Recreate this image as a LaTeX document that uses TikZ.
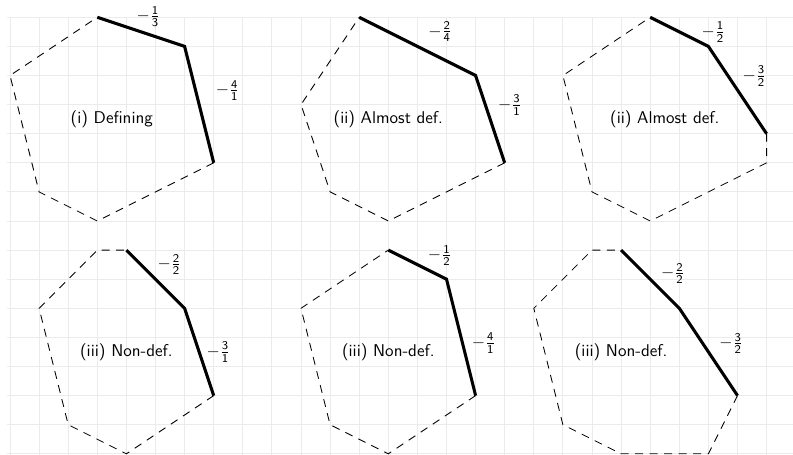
\documentclass[tikz,border=0pt]{standalone}
\usepackage{amsmath}
\begin{document}
\begin{tikzpicture}[x=0.6cm,y=0.6cm,
  gridline/.style={draw=black!8, line width=0.5pt},
  edgebold/.style={line width=1.8pt, line join=miter},
  edgedash/.style={line width=0.5pt, dash pattern=on 4.7pt off 3.8pt},
  slopelabel/.style={font=\sffamily, inner sep=0pt},
  captionlabel/.style={font=\sffamily, inner sep=0pt}]
\useasboundingbox (-0.3436,-15.007) rectangle (26.907,0.5945);
\draw[gridline, step=1] (-0.12,0) grid (27.5,-15.5);

% Panel 1
\draw[edgedash] (7,-5) -- (3,-7) -- (1,-6) -- (0,-2) -- (3,0);
\draw[edgebold] (3,0) -- (6,-1) -- (7,-5);
% Panel 2
\draw[edgedash] (17,-5) -- (13,-7) -- (11,-6) -- (10,-3) -- (12,0);
\draw[edgebold] (12,0) -- (16,-2) -- (17,-5);
% Panel 3
\draw[edgedash] (26,-4) -- (26,-5) -- (22,-7) -- (20,-6) -- (19,-2) -- (22,0);
\draw[edgebold] (22,0) -- (24,-1) -- (26,-4);
% Panel 4
\draw[edgedash] (7,-13) -- (4,-15) -- (2,-14) -- (1,-10) -- (3,-8) -- (4,-8);
\draw[edgebold] (4,-8) -- (6,-10) -- (7,-13);
% Panel 5
\draw[edgedash] (16,-13) -- (13,-15) -- (11,-14) -- (10,-10) -- (13,-8);
\draw[edgebold] (13,-8) -- (15,-9) -- (16,-13);
% Panel 6
\draw[edgedash] (25,-13) -- (24,-15) -- (21,-15) -- (19,-14) -- (18,-10) -- (20,-8) -- (21,-8);
\draw[edgebold] (21,-8) -- (23,-10) -- (25,-13);

% slope labels
\node[slopelabel] (l1a) at (4.76,0.03) {$-\frac{\mathsf{1}}{\mathsf{3}}$};
\node[slopelabel] (l1b) at (7.48,-2.52) {$-\frac{\mathsf{4}}{\mathsf{1}}$};
\node[slopelabel] (l2a) at (14.78,-0.495) {$-\frac{\mathsf{2}}{\mathsf{4}}$};
\node[slopelabel] (l2b) at (17.18,-3.01) {$-\frac{\mathsf{3}}{\mathsf{1}}$};
\node[slopelabel] (l3a) at (24.17,-0.516) {$-\frac{\mathsf{1}}{\mathsf{2}}$};
\node[slopelabel] (l3b) at (25.58,-2.017) {$-\frac{\mathsf{3}}{\mathsf{2}}$};
\node[slopelabel] (l4a) at (5.48,-8.50) {$-\frac{\mathsf{2}}{\mathsf{2}}$};
\node[slopelabel] (l4b) at (7.16,-11.51) {$-\frac{\mathsf{3}}{\mathsf{1}}$};
\node[slopelabel] (l5a) at (14.77,-8.19) {$-\frac{\mathsf{1}}{\mathsf{2}}$};
\node[slopelabel] (l5b) at (16.28,-11.19) {$-\frac{\mathsf{4}}{\mathsf{1}}$};
\node[slopelabel] (l6a) at (22.78,-8.80) {$-\frac{\mathsf{2}}{\mathsf{2}}$};
\node[slopelabel] (l6b) at (24.78,-11.21) {$-\frac{\mathsf{3}}{\mathsf{2}}$};

% captions
\node[captionlabel] (c1) at (3.5,-3.5) {(i) Defining};
\node[captionlabel] (c2) at (13,-3.5) {(ii) Almost def.};
\node[captionlabel] (c3) at (22.5,-3.5) {(ii) Almost def.};
\node[captionlabel] (c4) at (4,-11.5) {(iii) Non-def.};
\node[captionlabel] (c5) at (13,-11.5) {(iii) Non-def.};
\node[captionlabel] (c6) at (21,-11.5) {(iii) Non-def.};
\end{tikzpicture}
\end{document}
